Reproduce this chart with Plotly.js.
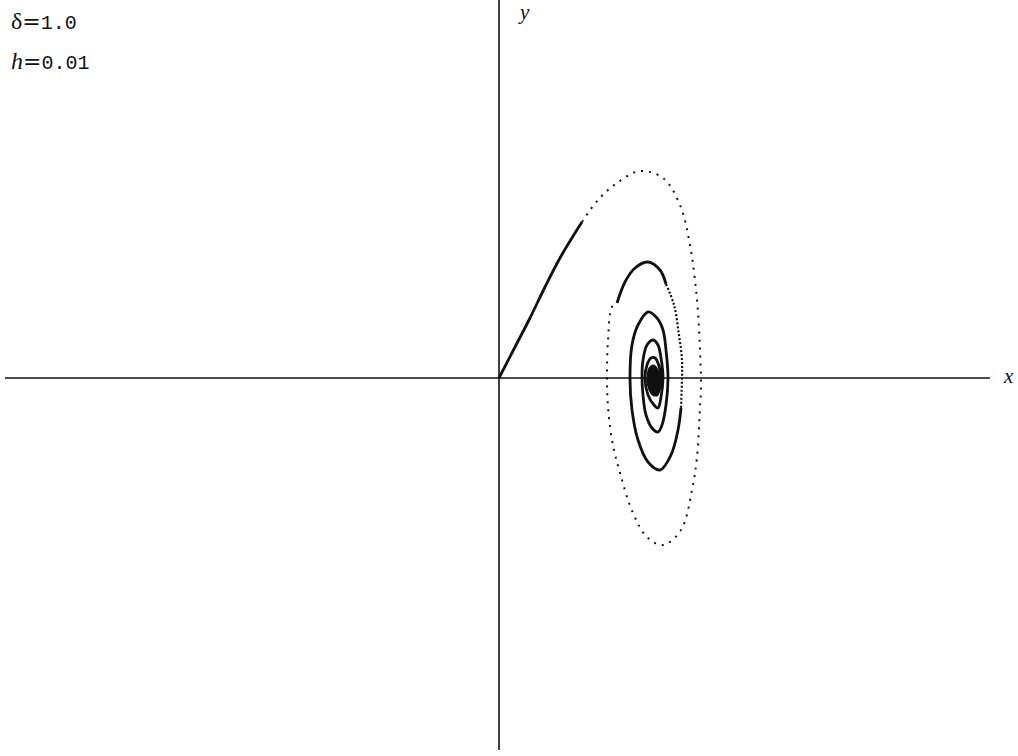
<!DOCTYPE html>
<html>
<head>
<meta charset="utf-8">
<script src="https://cdn.plot.ly/plotly-3.0.1.min.js"></script>
<style>
  html, body { margin: 0; padding: 0; background: #fff; }
  #plot { width: 1018px; height: 756px; }
</style>
</head>
<body>
<div id="plot"></div>
<script>
// Phase-plane trajectory (x, y) spiralling into the equilibrium point.
// The path is split into stretches: where the integration steps are
// close together it reads as a solid line, where they spread out it is dotted.

// 1) leaving the origin (solid)
const seg1X = [0.00, 0.16, 0.31, 0.46, 0.61, 0.76, 0.83];
const seg1Y = [0.00, 0.31, 0.60, 0.91, 1.20, 1.45, 1.56];

// 2) the wide outer loop (sparse dots)
const seg2X = [0.83, 0.99, 1.18, 1.41, 1.64, 1.81, 1.91, 1.98, 2.01, 2.02, 2.01, 1.98, 1.93, 1.82, 1.64, 1.48, 1.34, 1.21, 1.13, 1.09, 1.08, 1.09, 1.13, 1.18];
const seg2Y = [1.56, 1.78, 1.95, 2.07, 2.00, 1.73, 1.33, 0.78, 0.28, -0.12, -0.29, -0.79, -1.12, -1.52, -1.67, -1.59, -1.35, -0.95, -0.62, -0.29, 0.01, 0.38, 0.71, 0.75];

// 3) top of the second loop (solid)
const seg3X = [1.18, 1.26, 1.36, 1.49, 1.61, 1.67];
const seg3Y = [0.75, 0.96, 1.10, 1.16, 1.08, 0.94];

// 4) right side of the second loop (dense dots)
const seg4X = [1.67, 1.75, 1.80, 1.83, 1.83, 1.82];
const seg4Y = [0.94, 0.73, 0.43, 0.18, 0.00, -0.30];

// 5) the tightening inner turns (solid)
const seg5X = [1.82, 1.79, 1.72, 1.61, 1.49, 1.39, 1.33, 1.31, 1.33, 1.39, 1.49, 1.58, 1.64,
               1.67, 1.69, 1.67, 1.63, 1.59, 1.53, 1.47, 1.44, 1.43, 1.44, 1.48, 1.54, 1.59, 1.62,
               1.64, 1.62, 1.59, 1.55, 1.49, 1.46, 1.48, 1.52, 1.56, 1.60, 1.62, 1.60, 1.58,
               1.54, 1.50, 1.49];
const seg5Y = [-0.30, -0.52, -0.77, -0.92, -0.84, -0.62, -0.32, 0.00, 0.33, 0.53, 0.66, 0.60, 0.48,
               0.28, 0.00, -0.27, -0.47, -0.54, -0.50, -0.37, -0.17, 0.00, 0.18, 0.33, 0.38, 0.33, 0.20,
               0.00, -0.19, -0.30, -0.27, -0.17, 0.00, 0.13, 0.20, 0.20, 0.12, 0.00, -0.12, -0.17,
               -0.15, -0.07, 0.00];

// 6) final turns, packed into a dark core around the equilibrium
const seg6X = [1.49, 1.51, 1.55, 1.59, 1.61, 1.59, 1.55, 1.51, 1.49];
const seg6Y = [0.00, 0.10, 0.12, 0.06, -0.03, -0.14, -0.17, -0.12, 0.00];

// Parameter labels
const deltaValue = "1.0";
const stepValue = "0.01";

const solid = { color: "#111", width: 2.8, shape: "spline", smoothing: 1 };
const sparseDots = { color: "#111", width: 2, shape: "spline", smoothing: 1, dash: "2px,6px" };
const denseDots = { color: "#111", width: 2.2, shape: "spline", smoothing: 1, dash: "2px,2px" };

const traces = [
  { x: seg1X, y: seg1Y, mode: "lines", line: solid },
  { x: seg2X, y: seg2Y, mode: "lines", line: sparseDots },
  { x: seg3X, y: seg3Y, mode: "lines", line: solid },
  { x: seg4X, y: seg4Y, mode: "lines", line: denseDots },
  { x: seg5X, y: seg5Y, mode: "lines", line: solid },
  { x: seg6X, y: seg6Y, mode: "lines", fill: "toself", fillcolor: "#111",
    line: { color: "#111", width: 2.8, shape: "spline", smoothing: 1 } }
];

const mono = "font-family:'Liberation Mono', monospace;font-size:20px";
const eq = "<span style=\"font-family:'DejaVu Sans', sans-serif;font-size:22px\">=</span>";

const layout = {
  width: 1018,
  height: 756,
  margin: { l: 0, r: 0, t: 0, b: 0 },
  paper_bgcolor: "#fff",
  plot_bgcolor: "#fff",
  showlegend: false,
  xaxis: { range: [-4.99, 5.19], visible: false, fixedrange: true },
  yaxis: { range: [-3.78, 3.78], visible: false, fixedrange: true },
  shapes: [
    // x axis
    { type: "line", xref: "x", yref: "y", x0: -4.94, x1: 4.91, y0: 0, y1: 0,
      line: { color: "#111", width: 1.6 } },
    // y axis
    { type: "line", xref: "x", yref: "y", x0: 0, x1: 0, y0: -3.72, y1: 3.78,
      line: { color: "#111", width: 1.6 } }
  ],
  annotations: [
    { xref: "x", yref: "y", x: 5.09, y: 0.02, text: "<i>x</i>", showarrow: false,
      xanchor: "center", yanchor: "middle",
      font: { family: "Liberation Serif, serif", size: 21, color: "#111" } },
    { xref: "x", yref: "paper", x: 0.25, y: 1, yshift: 2, text: "<i>y</i>", showarrow: false,
      xanchor: "center", yanchor: "top",
      font: { family: "Liberation Serif, serif", size: 21, color: "#111" } },
    { xref: "paper", yref: "paper", x: 0.0088, y: 1 - 21 / 756, xanchor: "left", yanchor: "middle",
      showarrow: false,
      text: "δ" + eq + "<span style=\"" + mono + "\">" + deltaValue + "</span>",
      font: { family: "Liberation Serif, serif", size: 24, color: "#111" } },
    { xref: "paper", yref: "paper", x: 0.0088, y: 1 - 62 / 756, xanchor: "left", yanchor: "middle",
      showarrow: false,
      text: "<i>h</i>" + eq + "<span style=\"" + mono + "\">" + stepValue + "</span>",
      font: { family: "Liberation Serif, serif", size: 24, color: "#111" } }
  ]
};

Plotly.newPlot("plot", traces, layout, { displayModeBar: false, staticPlot: true });
</script>
</body>
</html>
